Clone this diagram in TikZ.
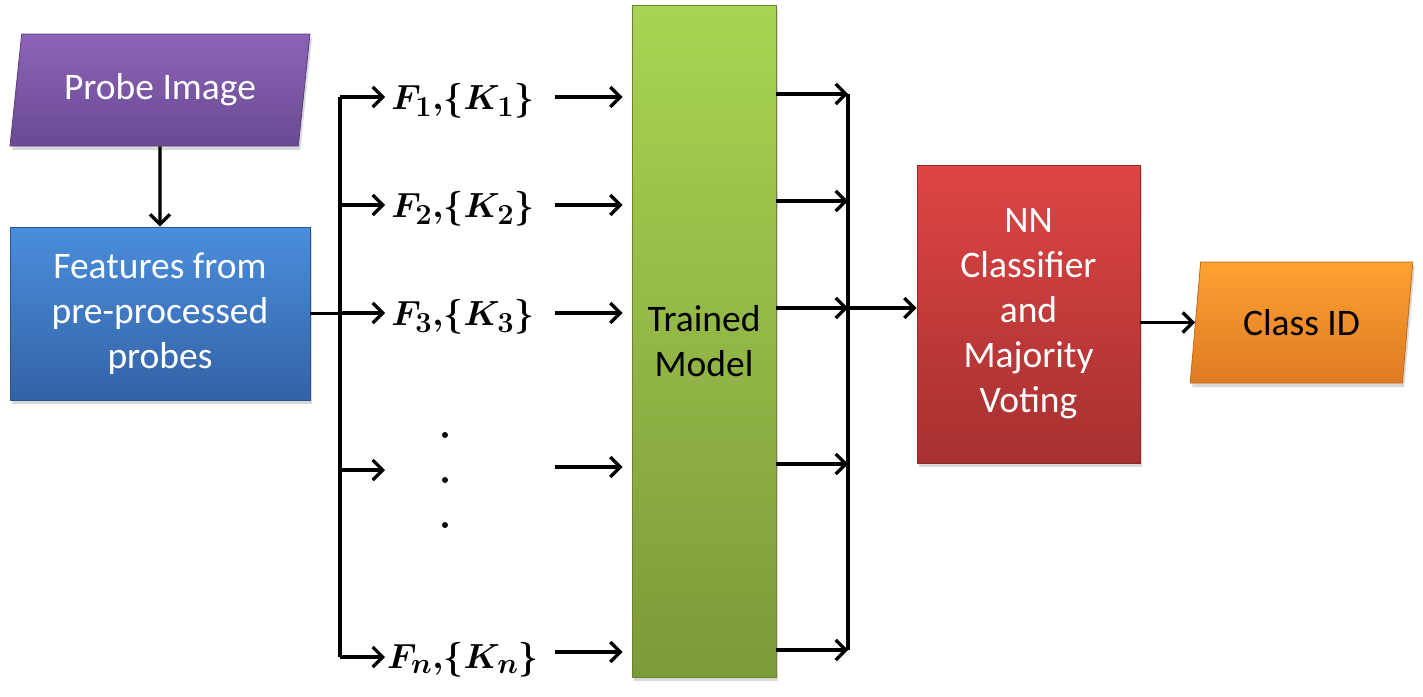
\documentclass[tikz,border=0pt]{standalone}
\usepackage[no-math]{fontspec}
\setmainfont{Carlito}
\usepackage{amsmath}
\usepackage{graphicx}
\usetikzlibrary{arrows.meta,shapes.geometric,shadows}
\definecolor{purT}{HTML}{8C64B8}
\definecolor{purB}{HTML}{694A92}
\definecolor{bluT}{HTML}{4A8EDC}
\definecolor{bluB}{HTML}{3462A6}
\definecolor{grnT}{HTML}{A8D452}
\definecolor{grnB}{HTML}{7C9A3A}
\definecolor{redT}{HTML}{DE4545}
\definecolor{redB}{HTML}{A63030}
\definecolor{orgT}{HTML}{FDA232}
\definecolor{orgB}{HTML}{DF7A22}
\newcommand{\biglab}[1]{\scalebox{1.4}{\fontsize{24.88}{30}\selectfont\boldmath$#1$}}
\tikzset{
  box/.style={draw=#1B!85!black, line width=0.8pt, top color=#1T, bottom color=#1B,
    drop shadow={opacity=0.3,shadow xshift=2pt,shadow yshift=-4pt},
    text=white, font=\fontsize{37.5}{45}\selectfont, align=center, inner sep=0pt},
  para/.style={trapezium, trapezium left angle=#1, trapezium right angle=180-#1,
    trapezium stretches=true},
  lab/.style={inner sep=0pt},
  ln/.style={line width=3.3pt},
  arr/.style={line width=3.3pt, -{Straight Barb[length=10pt,width=20pt]}},
  arrT/.style={line width=4.5pt, -{Straight Barb[length=10pt,width=20pt,line width=3.3pt]}},
}
\begin{document}
\begin{tikzpicture}[x=1pt,y=-1pt]
\useasboundingbox (0,0) rectangle (1423,696);

% nodes
\node[box=pur, para=76, minimum width=300pt, minimum height=112pt] (probe) at (160,90) {Probe Image};
\node[box=blu, minimum width=300pt, minimum height=173pt] (feat) at (160,313.5) {Features from\\pre-processed\\probes};
\node[box=grn, minimum width=144pt, minimum height=672pt, text=black] (model) at (704,341) {Trained\\Model};
\node[box=red, minimum width=223pt, minimum height=298pt] (red) at (1028.5,314) {NN\\Classifier\\and\\Majority\\Voting};
\node[box=org, para=77, minimum width=223pt, minimum height=121pt, text=black] (cid) at (1301.5,322.5) {Class ID};

\node[lab] (l1) at (463,101) {\biglab{F_1{,}\{K_1\}}};
\node[lab] (l2) at (463,209) {\biglab{F_2{,}\{K_2\}}};
\node[lab] (l3) at (463,317) {\biglab{F_3{,}\{K_3\}}};
\node[lab] (l5) at (463,660) {\biglab{F_n{,}\{K_n\}}};
\fill (445,435) circle (3pt) (445,480) circle (3pt) (445,525) circle (3pt);

% coordinates
\coordinate (tT) at (340,97);
\coordinate (tB) at (340,657);
\coordinate (b1) at (385,97);
\coordinate (b2) at (385,205);
\coordinate (b3) at (385,313);
\coordinate (b4) at (385,470);
\coordinate (b5) at (385,657);
\coordinate (a1) at (555,97);
\coordinate (a2) at (555,205);
\coordinate (a3) at (555,313);
\coordinate (a4) at (555,467);
\coordinate (a5) at (555,652);
\coordinate (o1) at (848,94);
\coordinate (o2) at (848,201);
\coordinate (o3) at (848,308);
\coordinate (o4) at (848,464);
\coordinate (o5) at (848,650);

% connectors
\draw[arr] (probe.south) -- (feat.north);
\draw[ln] (feat.east) -- (feat.east -| tT);
\draw[ln] (tT) -- (tB);
\foreach \i in {1,...,5}{
  \draw[arr] (b\i -| tT) -- (b\i);
  \draw[arr] (a\i) -- ([xshift=-9pt]a\i -| model.west);
  \draw[arrT] (o\i -| model.east) -- (o\i);
}
\draw[ln] (o1) -- (o5);
\draw[arr] (o3) -- (o3 -| red.west);
\draw[arr] (cid.west -| red.east) -- (cid.west);
\end{tikzpicture}
\end{document}
